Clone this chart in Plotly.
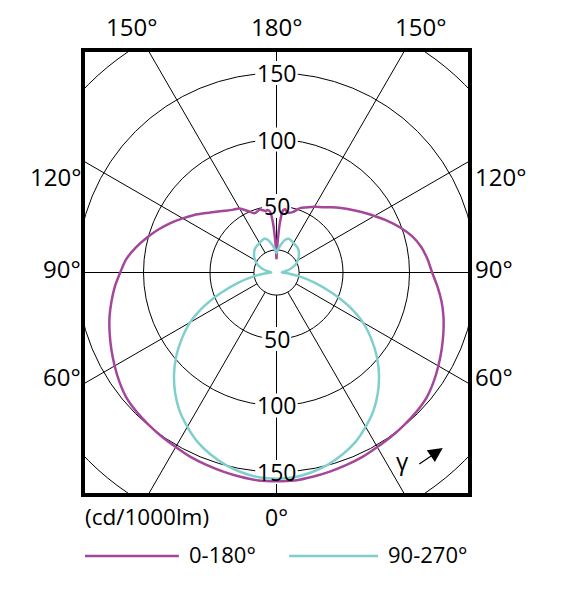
import numpy as np
import plotly.graph_objects as go

# gamma angles (deg) measured from the downward vertical
gamma = [0, 5, 10, 15, 20, 25, 30, 35, 40, 45, 50, 55, 60, 65,
         70, 75, 80, 85, 90, 95, 100, 105, 110, 115,
         120, 125, 130, 135, 140, 145, 150, 155, 160, 165,
         170, 172, 174, 176, 178, 180]

# intensity in cd/1000lm
c0 = [157, 157, 156, 155, 154, 153, 151.5, 150.5, 149.5, 148.5, 147, 144, 140.5, 137,
      133.5, 130, 126, 121.5, 117, 114, 110.5, 105.5, 99, 92,
      85, 79, 73.5, 68.5, 64, 60, 57, 54, 51.5, 47,
      46, 48, 47, 38, 22, 10]
c180 = [157, 157, 156, 155, 154, 153, 151.5, 150.5, 149.5, 148.5, 147, 144, 140.5, 137,
        133.5, 130, 126, 122, 117.5, 113.5, 107.5, 101, 94.5, 88,
        81.5, 75.5, 69.5, 64.5, 60.5, 57.5, 55.5, 51, 47.5, 49,
        47, 47.5, 46, 37, 22, 10]
c90 = [155, 154.5, 152.5, 149.5, 145.5, 140.5, 134, 127, 118.5, 109, 98.5, 87, 75, 60,
       44, 30, 18, 9, 4, 5, 8, 11, 14, 16.5,
       18.5, 20.5, 22, 23.5, 24.5, 25, 25.5, 26.5, 27, 25.5,
       22, 20.5, 19, 17.5, 16, 15]
c270 = [155, 154.5, 152.5, 149.5, 145.5, 140.5, 134, 127, 118.5, 109, 98.5, 87, 75, 60,
        44, 30, 18, 9, 4, 5, 8, 11, 14, 16.5,
        18.5, 20.5, 22, 23.5, 24.5, 25, 25.5, 26.5, 27, 25.5,
        22, 20.5, 19, 17.5, 16, 15]

grid_r = [17, 50, 100, 150, 200]
spoke_deg = list(range(0, 360, 30))
radial_labels = [50, 100, 150]

series = [("0-180°", c180, c0, "#a4469a"),
          ("90-270°", c270, c90, "#7fcfcc")]

FONT = "Open Sans"
g = np.radians(gamma)


def plane_xy(left, right):
    # left half goes 0 -> 180 on the negative side, right half comes back
    r = np.concatenate([np.array(left), np.array(right)[::-1]])
    t = np.concatenate([g, g[::-1]])
    side = np.concatenate([-np.ones(len(g)), np.ones(len(g))])
    return side * r * np.sin(t), -r * np.cos(t)


fig = go.Figure()

for name, left, right, color in series:
    x, y = plane_xy(left, right)
    fig.add_trace(go.Scatter(x=x, y=y, mode="lines", name=name,
                             line=dict(color=color, width=2.5, shape="spline", smoothing=0.8),
                             showlegend=False, hoverinfo="skip"))

shapes = []
# circles
for r in grid_r:
    shapes.append(dict(type="circle", xref="x", yref="y", x0=-r, y0=-r, x1=r, y1=r,
                       line=dict(color="black", width=1), layer="below"))
# spokes from the small hub circle outwards
for a in spoke_deg:
    t = np.radians(a)
    shapes.append(dict(type="line", xref="x", yref="y",
                       x0=grid_r[0] * np.sin(t), y0=-grid_r[0] * np.cos(t),
                       x1=300 * np.sin(t), y1=-300 * np.cos(t),
                       line=dict(color="black", width=1), layer="below"))
# white gaps behind the radial labels
for v in radial_labels:
    w = 11 if v < 100 else 16
    for s in (1, -1):
        shapes.append(dict(type="rect", xref="x", yref="y",
                           x0=-w, x1=w, y0=s * v - 9, y1=s * v + 9,
                           fillcolor="white", line=dict(width=0), layer="below"))

# legend lines
shapes.append(dict(type="line", xref="paper", yref="paper", x0=0.0, x1=0.245,
                   y0=-0.143, y1=-0.143, line=dict(color=series[0][3], width=2.5)))
shapes.append(dict(type="line", xref="paper", yref="paper", x0=0.533, x1=0.765,
                   y0=-0.143, y1=-0.143, line=dict(color=series[1][3], width=2.5)))

annotations = []
for v in radial_labels:
    for s in (1, -1):
        annotations.append(dict(x=0, y=s * v, xref="x", yref="y", text=str(v),
                                showarrow=False, font=dict(size=23, color="black", family=FONT)))

# angle labels round the frame
top = [("150°", 0.122), ("180°", 0.5), ("150°", 0.875)]
for txt, px in top:
    annotations.append(dict(x=px, y=1.057, xref="paper", yref="paper", text=txt,
                            showarrow=False, xanchor="center", yanchor="middle",
                            font=dict(size=24, color="black", family=FONT)))
sides = [("120°", 0.7166), ("90°", 0.5095), ("60°", 0.264)]
for txt, py in sides:
    annotations.append(dict(x=-0.005, y=py, xref="paper", yref="paper", text=txt,
                            showarrow=False, xanchor="right", yanchor="middle",
                            font=dict(size=24, color="black", family=FONT)))
    annotations.append(dict(x=1.012, y=py, xref="paper", yref="paper", text=txt,
                            showarrow=False, xanchor="left", yanchor="middle",
                            font=dict(size=24, color="black", family=FONT)))

annotations.append(dict(x=0.5, y=-0.054, xref="paper", yref="paper", text="0°",
                        showarrow=False, xanchor="center", yanchor="middle",
                        font=dict(size=23, color="black", family=FONT)))
annotations.append(dict(x=-0.005, y=-0.054, xref="paper", yref="paper", text="(cd/1000lm)",
                        showarrow=False, xanchor="left", yanchor="middle",
                        font=dict(size=22.5, color="black", family=FONT)))
annotations.append(dict(x=0.266, y=-0.138, xref="paper", yref="paper", text=series[0][0],
                        showarrow=False, xanchor="left", yanchor="middle",
                        font=dict(size=22, color="black", family=FONT)))
annotations.append(dict(x=0.786, y=-0.138, xref="paper", yref="paper", text=series[1][0],
                        showarrow=False, xanchor="left", yanchor="middle",
                        font=dict(size=22, color="black", family=FONT)))

# gamma marker with arrow
annotations.append(dict(x=95, y=-141, xref="x", yref="y", text="γ", showarrow=False,
                        font=dict(size=24, color="black", family=FONT)))
annotations.append(dict(x=125, y=-132, xref="x", yref="y", text="", showarrow=True,
                        ax=-25, ay=17, arrowhead=2, arrowsize=2.4, arrowwidth=1.2,
                        arrowcolor="black"))

axis = dict(showgrid=False, zeroline=False, showticklabels=False, ticks="",
            showline=True, mirror=True, linecolor="black", linewidth=4, fixedrange=True)

# the page body adds an 8px offset, so the figure is 8px smaller on the left/top
fig.update_layout(
    width=553, height=592,
    margin=dict(l=77, r=93, t=44, b=107),
    paper_bgcolor="white", plot_bgcolor="white",
    xaxis=dict(range=[-143.98, 143.98], **axis),
    yaxis=dict(range=[-165.8, 165.8], **axis),
    shapes=shapes, annotations=annotations,
    showlegend=False,
)

fig.write_html("out.html")
